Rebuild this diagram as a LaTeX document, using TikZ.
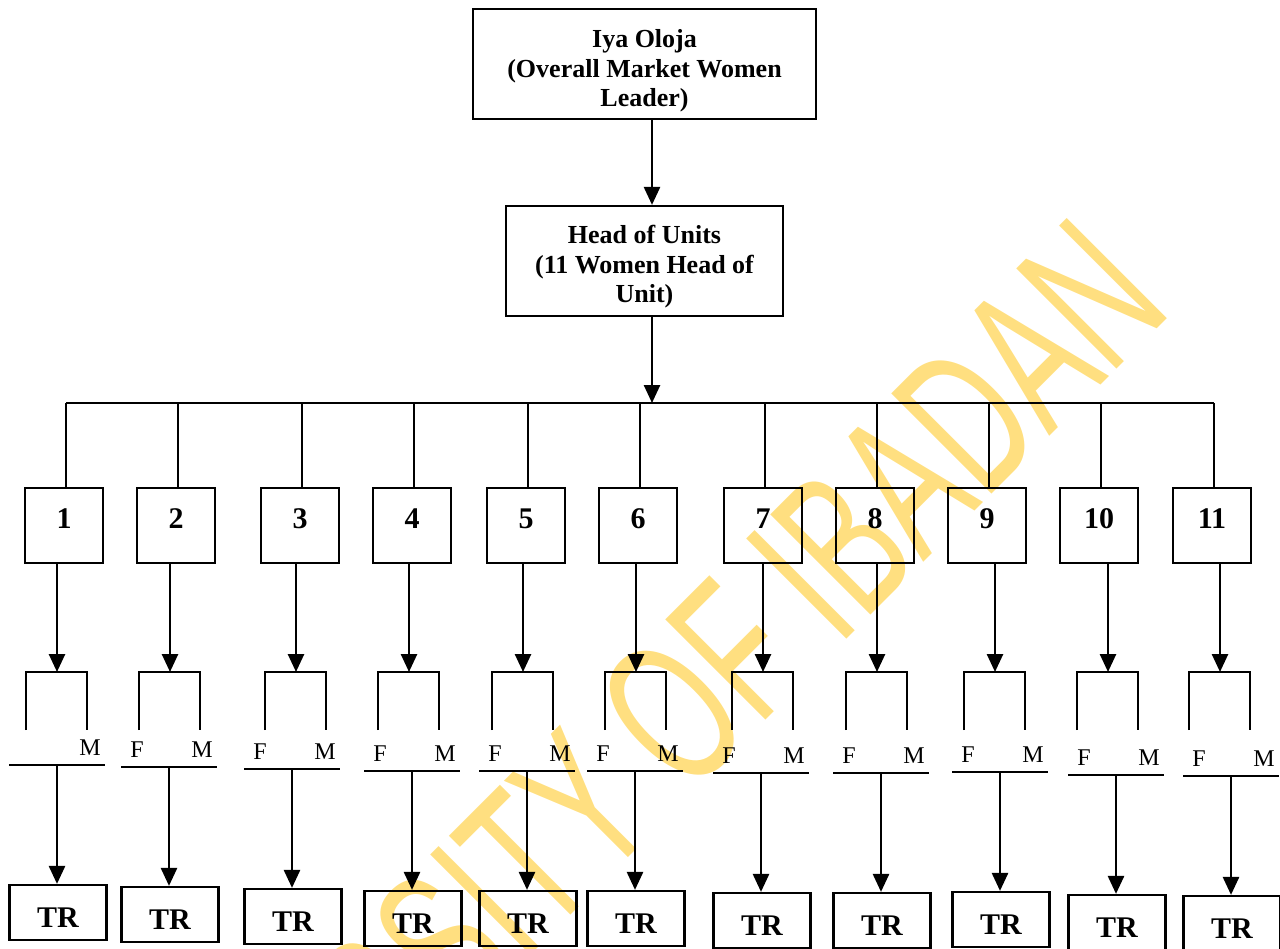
\documentclass[tikz,border=0pt]{standalone}
\usepackage{fontspec}
\setmainfont{Liberation Serif}
\newfontfamily\wmfont{Liberation Sans}
\usepackage{graphicx}
\usepackage{tikz}
\usetikzlibrary{arrows.meta}
\definecolor{mGold}{HTML}{FFDF80}

\begin{document}
\begin{tikzpicture}[x=0.5pt, y=-0.5pt,
  hd/.style={draw, line width=1.1pt, minimum height=55pt, align=center,
             font=\fontsize{13}{14.75}\selectfont\bfseries},
  ub/.style={draw, line width=1.1pt, minimum width=39pt, minimum height=37.5pt,
             text depth=7pt, font=\fontsize{15}{17}\selectfont\bfseries},
  trb/.style={draw, line width=1.1pt, minimum width=48.5pt, minimum height=27.5pt,
              text height=14.5pt, font=\fontsize{15}{17}\selectfont\bfseries},
  fm/.style={inner sep=0pt, font=\fontsize{12}{14}\selectfont},
  ln/.style={line width=0.9pt},
  arr/.style={-{Triangle[length=9pt,width=8pt]}, line width=1.3pt}]
  \useasboundingbox (0,0) rectangle (1280,948);
  \clip (0,0) rectangle (1280,948);
  % watermark behind everything
  \node[rotate=45, anchor=base east, inner sep=0pt, text=mGold,
        font=\wmfont\fontsize{103}{103}\selectfont] (wm) at (1175,311)
        {\scalebox{0.62}[1]{UNIVERSITY OF IBADAN}};
  \node[hd, minimum width=171.5pt] (leader) at (644.5,64)
     {\rule{0pt}{16pt}Iya Oloja\\(Overall Market Women\\Leader)};
  \node[hd, minimum width=138.5pt] (heads) at (644.5,261)
     {\rule{0pt}{15pt}Head of Units\\(11 Women Head of\\Unit)};
  \coordinate (bus) at (652,403);
  \draw[arr] (leader.south -| bus) -- (heads.north -| bus);
  \draw[arr] (heads.south -| bus) -- (bus);
  % one column per unit: box x, arrow x, underline start, underline y
  \foreach \i/\bx/\ax/\ul/\uy in {1/64/57/9/765, 2/176/170/121/767,
      3/300/296/244/769, 4/412/409/364/771, 5/526/523/479/771,
      6/638/636/587/771, 7/763/763/713/773, 8/875/877/833/773,
      9/987/995/952/772, 10/1099/1108/1068/775, 11/1212/1220/1183/776}{
    \node[ub] (u\i) at (\bx,525.5) {\i};
    \coordinate (d\i) at (\bx+2,403);
    \draw[ln] (d\i) -- (u\i.north -| d\i);
    \coordinate (k\i) at (\ax,672);
    \draw[arr] (u\i.south -| k\i) -- (k\i);
    \draw[ln] (\ax-31,730) |- (k\i) -| (\ax+30,730);
    \ifnum\i>1 \node[fm] (f\i) at (\ul+16,\uy-17) {F};\fi
    \node[fm] (m\i) at (\ul+81,\uy-17) {M};
    \coordinate (s\i) at (\ul+48,\uy);
    \draw[ln] (\ul,\uy) -- (\ul+96,\uy);
    \node[trb] (t\i) at (\ul+49,\uy+147.5) {TR};
    \draw[arr] (s\i) -- (t\i.north -| s\i);
  }
  \draw[ln] (d1) -- (d11);
\end{tikzpicture}
\end{document}
